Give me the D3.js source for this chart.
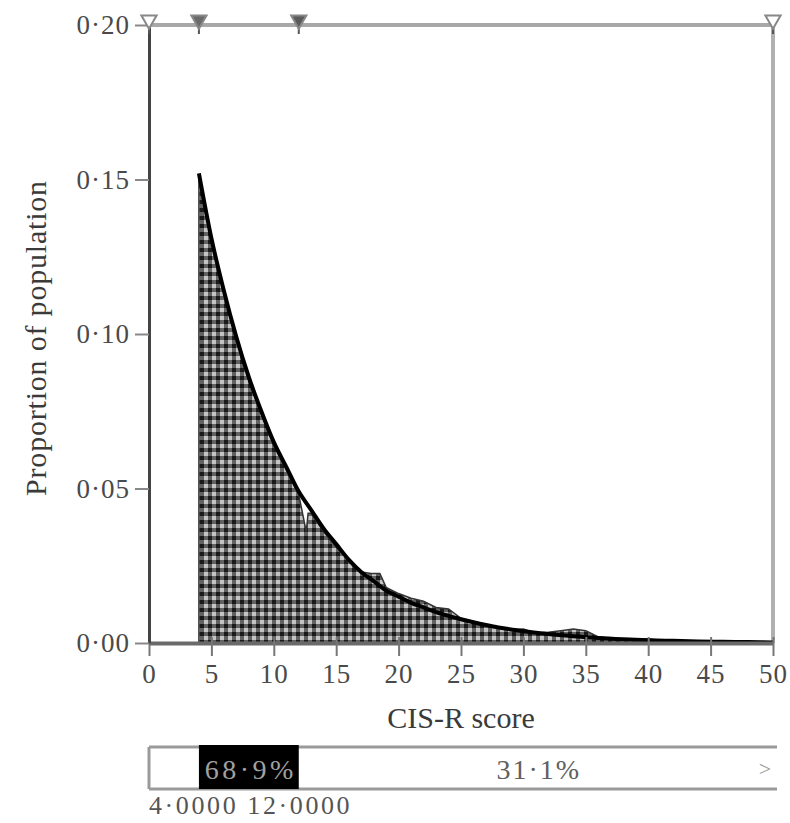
<!DOCTYPE html>
<html>
<head>
<meta charset="utf-8">
<script src="https://cdn.jsdelivr.net/npm/d3@7"></script>
<style>
html,body{margin:0;padding:0;background:#fff;}
svg{display:block;}
text{font-family:"Liberation Serif","DejaVu Serif",serif;}
</style>
</head>
<body>
<svg id="chart" width="790" height="823"></svg>
<script>
// ---- data ----
const xTicks = [0, 5, 10, 15, 20, 25, 30, 35, 40, 45, 50];
const yTicks = [0, 0.05, 0.10, 0.15, 0.20];
const histX = [4, 4, 5, 6, 7, 8, 9, 10, 11, 12, 12.6, 12.75, 13, 14, 15, 16, 17, 17.8, 18.5, 19, 20, 21, 22, 23, 24, 25, 26, 27, 28, 29, 30, 31, 32, 33, 34, 35, 36, 37, 38, 39, 40, 41, 42, 43, 44, 45, 46, 47, 48, 49, 50];
const histY = [0, 0.150, 0.130, 0.113, 0.098, 0.085, 0.074, 0.064, 0.056, 0.048, 0.036, 0.042, 0.042, 0.036, 0.031, 0.027, 0.023, 0.0225, 0.0225, 0.018, 0.016, 0.0145, 0.0135, 0.0115, 0.011, 0.008, 0.007, 0.006, 0.005, 0.0043, 0.0045, 0.0032, 0.0035, 0.004, 0.0045, 0.004, 0.002, 0.0015, 0.001, 0.001, 0.0014, 0.0008, 0.0006, 0.0005, 0.0003, 0.0004, 0.0002, 0.0001, 0.0001, 0.0001, 0];
const curveX = [4, 5, 6, 7, 8, 9, 10, 11, 12, 13, 14, 15, 16, 17, 18, 19, 20, 21, 22, 23, 24, 25, 26, 27, 28, 29, 30, 32, 34, 36, 38, 40, 42, 44, 46, 48, 50];
const curveY = [0.152, 0.131, 0.114, 0.099, 0.086, 0.075, 0.065, 0.057, 0.049, 0.043, 0.037, 0.032, 0.027, 0.023, 0.020, 0.017, 0.015, 0.013, 0.0115, 0.010, 0.0088, 0.0077, 0.0067, 0.0058, 0.005, 0.0044, 0.0038, 0.0029, 0.0022, 0.0016, 0.0012, 0.0009, 0.0007, 0.0005, 0.0004, 0.0003, 0.0002];
const markerX = [0, 4, 12, 50];
const markerFill = ["#fff", "#6a6a6a", "#5a5a5a", "#fff"];
const barSegX = [4, 12];              // black segment bounds
const barLabels = ["68·9%", "31·1%", ">"];
const cutLabel = "4·0000 12·0000";
const xTitle = "CIS-R score";
const yTitle = "Proportion of population";

// ---- layout ----
const svg = d3.select("#chart");
const x = d3.scaleLinear().domain([0, 50]).range([149, 773]);
const y = d3.scaleLinear().domain([0, 0.2]).range([643, 25]);
const fmt = d => d.toFixed(2).replace(".", "·");

// pattern
const defs = svg.append("defs");
const pat = defs.append("pattern").attr("id", "chk").attr("patternUnits", "userSpaceOnUse")
  .attr("width", 8).attr("height", 8);
pat.append("rect").attr("width", 8).attr("height", 8).attr("fill", "#626262");
pat.append("rect").attr("x", 0).attr("y", 0).attr("width", 4).attr("height", 4).attr("fill", "#1a1a1a");
pat.append("rect").attr("x", 4).attr("y", 4).attr("width", 4).attr("height", 4).attr("fill", "#c4c4c4");

// frame (top and right borders)
svg.append("line").attr("x1", x(0)).attr("x2", x(50)).attr("y1", y(0.2)).attr("y2", y(0.2))
  .attr("stroke", "#a8a8a8").attr("stroke-width", 4);
svg.append("line").attr("x1", x(50)).attr("x2", x(50)).attr("y1", y(0.2)).attr("y2", y(0))
  .attr("stroke", "#b0b0b0").attr("stroke-width", 4);

// histogram area
const hist = histX.map((v, i) => [v, histY[i]]);
svg.append("path").datum(hist)
  .attr("d", d3.area().x(d => x(d[0])).y0(y(0)).y1(d => y(d[1])))
  .attr("fill", "url(#chk)").attr("stroke", "#333").attr("stroke-width", 1.5);

// fitted curve
const curve = curveX.map((v, i) => [v, curveY[i]]);
svg.append("path").datum(curve)
  .attr("d", d3.line().x(d => x(d[0])).y(d => y(d[1])).curve(d3.curveMonotoneX))
  .attr("fill", "none").attr("stroke", "#000").attr("stroke-width", 4);

// axes
const gx = svg.append("g").attr("transform", `translate(0,${y(0)})`)
  .call(d3.axisBottom(x).tickValues(xTicks).tickSize(13).tickSizeOuter(0).tickPadding(8));
gx.select(".domain").attr("stroke", "#6a6a6a").attr("stroke-width", 4);
gx.selectAll(".tick line").attr("stroke", "#777").attr("stroke-width", 2).attr("y1", -6);
gx.selectAll(".tick text").attr("font-size", 27).attr("font-family", "Liberation Serif")
  .style("fill", "#4a4a4a").attr("letter-spacing", 1);

const gy = svg.append("g").attr("transform", `translate(${x(0)},0)`)
  .call(d3.axisLeft(y).tickValues(yTicks).tickFormat(fmt).tickSize(14).tickSizeOuter(0).tickPadding(5));
gy.select(".domain").attr("stroke", "#444").attr("stroke-width", 3);
gy.selectAll(".tick line").attr("stroke", "#888").attr("stroke-width", 2);
gy.selectAll(".tick text").attr("font-size", 27).attr("font-family", "Liberation Serif")
  .style("fill", "#4a4a4a").attr("letter-spacing", 1);

// top markers
const tri = d3.symbol().type(d3.symbolTriangle).size(100);
const mk = svg.append("g");
markerX.forEach((v, i) => {
  mk.append("line").attr("x1", x(v)).attr("x2", x(v)).attr("y1", y(0.2)).attr("y2", y(0.2) + 9)
    .attr("stroke", "#555").attr("stroke-width", 2);
  mk.append("path").attr("d", tri())
    .attr("transform", `translate(${x(v)},${y(0.2) - 5}) rotate(180)`)
    .attr("fill", markerFill[i]).attr("stroke", "#888").attr("stroke-width", 2);
});

// axis titles
svg.append("text").attr("x", (x(0) + x(50)) / 2).attr("y", 728).attr("text-anchor", "middle")
  .attr("font-size", 30).style("fill", "#3a3a3a").text(xTitle);
svg.append("text").attr("transform", `translate(46,${y(0.1) + 4}) rotate(-90)`).attr("text-anchor", "middle")
  .attr("font-size", 30).attr("letter-spacing", 0.8).style("fill", "#3a3a3a").text(yTitle);

// bottom bar
const by0 = 747, by1 = 789;
svg.append("line").attr("x1", x(0)).attr("x2", x(50) + 4).attr("y1", by0).attr("y2", by0)
  .attr("stroke", "#9a9a9a").attr("stroke-width", 3);
svg.append("line").attr("x1", x(0)).attr("x2", x(50) + 4).attr("y1", by1).attr("y2", by1)
  .attr("stroke", "#9a9a9a").attr("stroke-width", 3);
svg.append("line").attr("x1", x(0)).attr("x2", x(0)).attr("y1", by0).attr("y2", by1)
  .attr("stroke", "#9a9a9a").attr("stroke-width", 3);
svg.append("rect").attr("x", x(barSegX[0])).attr("y", by0 - 2).attr("width", x(barSegX[1]) - x(barSegX[0]))
  .attr("height", by1 - by0 + 2).attr("fill", "#000");
svg.append("text").attr("x", (x(barSegX[0]) + x(barSegX[1])) / 2 + 2).attr("y", 779).attr("text-anchor", "middle")
  .attr("font-size", 28).attr("letter-spacing", 3.5).style("fill", "#a0a0a0").text(barLabels[0]);
svg.append("text").attr("x", (x(barSegX[1]) + x(50)) / 2 + 3).attr("y", 779).attr("text-anchor", "middle")
  .attr("font-size", 28).attr("letter-spacing", 2).style("fill", "#606060").text(barLabels[1]);
svg.append("text").attr("x", x(50) - 8).attr("y", 776).attr("text-anchor", "middle")
  .attr("font-size", 22).style("fill", "#999").text(barLabels[2]);
svg.append("text").attr("x", x(0)).attr("y", 814).attr("text-anchor", "start")
  .attr("font-size", 26).attr("letter-spacing", 2.6).style("fill", "#555").text(cutLabel);
</script>
</body>
</html>
